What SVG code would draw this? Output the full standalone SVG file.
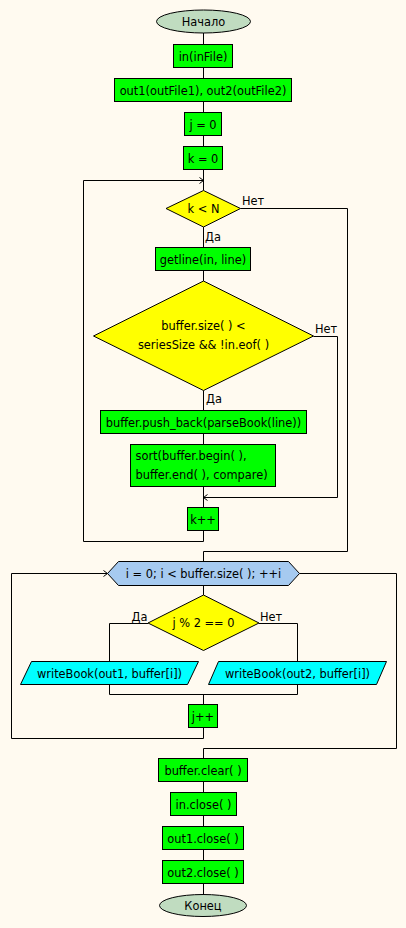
<svg xmlns="http://www.w3.org/2000/svg" width="406" height="928" viewBox="0 0 406 928">
<defs>
<style>
.t{font-family:"DejaVu Sans",Verdana,sans-serif;font-size:11.4px;fill:#000}
.c{text-anchor:middle}
.ln{fill:none;stroke:#000;stroke-width:1}
.blk{fill:#00FF00;stroke:#000;stroke-width:1}
.dec{fill:#FFFF00;stroke:#000;stroke-width:1}
.io{fill:#00FFFF;stroke:#000;stroke-width:1}
.term{fill:#C0DCC0;stroke:#000;stroke-width:1}
.loop{fill:#A6CAF0;stroke:#000;stroke-width:1}
</style>
<marker id="arr" markerUnits="userSpaceOnUse" markerWidth="8" markerHeight="8" refX="5" refY="4" orient="auto">
<path d="M1,1 L5,4 L1,7" fill="none" stroke="#000" stroke-width="1"/>
</marker>
</defs>
<rect x="0" y="0" width="406" height="928" fill="#FFFAF0"/>
<g id="connectors">
<path class="ln" d="M203.5,33 V44.5 M203.5,67.5 V78.5 M203.5,101.5 V112.5 M203.5,135.5 V146.5 M203.5,169.5 V190.5"/>
<path class="ln" d="M203.5,530.5 V541.5 H83.5 V180.5 H203.5" marker-end="url(#arr)"/>
<path class="ln" d="M240.5,208.5 H347.5 V551.5 H203.5 V561.5"/>
<path class="ln" d="M203.5,227 V247.5 M203.5,270.5 V281 M203.5,390.5 V410.5 M203.5,433.5 V444.5 M203.5,486.5 V507.5"/>
<path class="ln" d="M313.5,336.5 H337.5 V497.5 H203.5" marker-end="url(#arr)"/>
<path class="ln" d="M203.5,585.5 V595"/>
<path class="ln" d="M148,623.5 H109.5 V661.5 M259,623.5 H297.5 V661.5"/>
<path class="ln" d="M109.5,684.5 V694.5 H297.5 V684.5 M203.5,694.5 V704.5"/>
<path class="ln" d="M203.5,727.5 V738.5 H11.5 V573.5 H107.5" marker-end="url(#arr)"/>
<path class="ln" d="M299.5,573.5 H396.5 V748.5 H203.5 V758.5"/>
<path class="ln" d="M203.5,781.5 V792.5 M203.5,815.5 V826.5 M203.5,849.5 V860.5 M203.5,883.5 V894.5"/>
<text class="t" x="242" y="205">Нет</text>
<text class="t" x="205" y="241">Да</text>
<text class="t" x="315" y="333">Нет</text>
<text class="t" x="206" y="403">Да</text>
<text class="t" x="131.5" y="620.5">Да</text>
<text class="t" x="260" y="620.5">Нет</text>
</g>
<g id="start"><ellipse class="term" cx="203.5" cy="21.5" rx="47" ry="11.5"/><text class="t c" x="203.5" y="25.5">Начало</text></g>
<g id="in"><rect class="blk" x="173.5" y="44.5" width="59" height="23"/><text class="t c" x="203" y="61">in(inFile)</text></g>
<g id="out"><rect class="blk" x="114.5" y="78.5" width="177" height="23"/><text class="t c" x="203" y="95">out1(outFile1), out2(outFile2)</text></g>
<g id="j0"><rect class="blk" x="184.5" y="112.5" width="37" height="23"/><text class="t c" x="203" y="129">j = 0</text></g>
<g id="k0"><rect class="blk" x="183.5" y="146.5" width="39" height="23"/><text class="t c" x="203" y="163">k = 0</text></g>
<g id="kN"><polygon class="dec" points="203.5,190.5 240.5,208.5 203.5,227 166,208.5"/><text class="t c" x="203.5" y="213">k &lt; N</text></g>
<g id="getline"><rect class="blk" x="155.5" y="247.5" width="95" height="23"/><text class="t c" x="203" y="264">getline(in, line)</text></g>
<g id="cond"><polygon class="dec" points="203.5,281 313.5,336 203.5,390.5 93.5,336"/><text class="t c" x="203.5" y="330">buffer.size( ) &lt;</text><text class="t c" x="203.5" y="349">seriesSize &amp;&amp; !in.eof( )</text></g>
<g id="push"><rect class="blk" x="100.5" y="410.5" width="206" height="23"/><text class="t c" x="203.5" y="427">buffer.push_back(parseBook(line))</text></g>
<g id="sort"><rect class="blk" x="130.5" y="444.5" width="145" height="42"/><text class="t" x="135.5" y="460">sort(buffer.begin( ),</text><text class="t" x="135.5" y="479">buffer.end( ), compare)</text></g>
<g id="kinc"><rect class="blk" x="187.5" y="507.5" width="31" height="23"/><text class="t c" x="203" y="524">k++</text></g>
<g id="forloop"><polygon class="loop" points="107.5,573.5 118.5,561.5 288.5,561.5 299.5,573.5 288.5,585.5 118.5,585.5"/><text class="t c" x="203.5" y="578">i = 0; i &lt; buffer.size( ); ++i</text></g>
<g id="jmod"><polygon class="dec" points="203.5,595 259,623 203.5,650.5 148,623"/><text class="t c" x="203.5" y="627">j % 2 == 0</text></g>
<g id="w1"><polygon class="io" points="31.5,661.5 198.5,661.5 187.5,684.5 20.5,684.5"/><text class="t c" x="109.5" y="677.5">writeBook(out1, buffer[i])</text></g>
<g id="w2"><polygon class="io" points="218.5,661.5 386.5,661.5 376.5,684.5 208.5,684.5"/><text class="t c" x="297.5" y="677.5">writeBook(out2, buffer[i])</text></g>
<g id="jinc"><rect class="blk" x="188.5" y="704.5" width="29" height="23"/><text class="t c" x="203" y="721">j++</text></g>
<g id="clear"><rect class="blk" x="158.5" y="758.5" width="89" height="23"/><text class="t c" x="203" y="775">buffer.clear( )</text></g>
<g id="inclose"><rect class="blk" x="170.5" y="792.5" width="66" height="23"/><text class="t c" x="203.5" y="809">in.close( )</text></g>
<g id="out1close"><rect class="blk" x="162.5" y="826.5" width="81" height="23"/><text class="t c" x="203" y="843">out1.close( )</text></g>
<g id="out2close"><rect class="blk" x="162.5" y="860.5" width="81" height="23"/><text class="t c" x="203" y="877">out2.close( )</text></g>
<g id="end"><ellipse class="term" cx="203" cy="905.5" rx="43.5" ry="11"/><text class="t c" x="203" y="909.5">Конец</text></g>
</svg>
